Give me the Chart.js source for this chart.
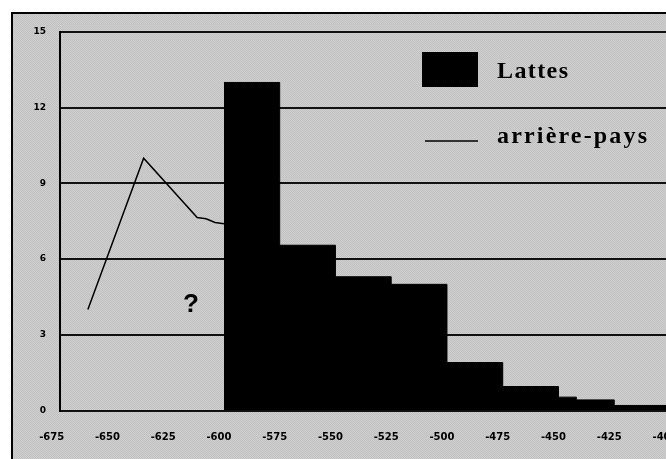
<!DOCTYPE html>
<html>
<head>
<meta charset="utf-8">
<script src="https://cdn.jsdelivr.net/npm/chart.js@4.4.0/dist/chart.umd.min.js"></script>
<style>
  html, body { margin: 0; padding: 0; overflow: hidden; background: #fff; }
  canvas { display: block; }
</style>
</head>
<body>
<canvas id="myChart" width="670" height="470"></canvas>
<script>
'use strict';
// histogram "Lattes" : start of each step and its height
let lattesYears = [-600, -575, -550, -525, -500, -475, -450, -442, -425, -400];
let lattesValues = [13, 6.55, 5.3, 5.0, 1.9, 0.95, 0.53, 0.42, 0.2, 0.2];
// line "arrière-pays"
let paysYears = [-661, -636, -612, -608, -604, -600];
let paysValues = [4, 10, 7.65, 7.6, 7.45, 7.4];
let xTicks = [-675, -650, -625, -600, -575, -550, -525, -500, -475, -450, -425, -400];
let yTicks = [0, 3, 6, 9, 12, 15];
let labelLattes = 'Lattes';
let labelPays = 'arrière-pays';

function toPoints(xs, ys){
    let pts = [];
    for(let i = 0; i < xs.length; i++){
        pts.push({x: xs[i], y: ys[i]});
    }
    return pts;
}

// grey dithered background
function makePattern(ctx){
    let c = document.createElement('canvas');
    c.width = 2; c.height = 2;
    let p = c.getContext('2d');
    p.fillStyle = '#d0d0d0'; p.fillRect(0, 0, 2, 2);
    p.fillStyle = '#c0c0c0'; p.fillRect(0, 0, 1, 1); p.fillRect(1, 1, 1, 1);
    return ctx.createPattern(c, 'repeat');
}

let framePlugin = {
    id: 'frame',
    beforeDraw(chart){
        let ctx = chart.ctx;
        ctx.save();
        ctx.fillStyle = '#fff';
        ctx.fillRect(0, 0, chart.width, chart.height);
        ctx.fillStyle = makePattern(ctx);
        ctx.fillRect(12, 13, chart.width, chart.height);
        ctx.strokeStyle = '#000';
        ctx.lineWidth = 2;
        ctx.strokeRect(12, 13, chart.width + 10, chart.height + 10);
        ctx.restore();
    }
};

function fitText(ctx, text, x, y, width){
    ctx.letterSpacing = '0px';
    let w = ctx.measureText(text).width;
    let sp = (width - w) / (text.length - 1);
    ctx.letterSpacing = sp.toFixed(2) + 'px';
    ctx.fillText(text, x, y);
    ctx.letterSpacing = '0px';
}

let legendPlugin = {
    id: 'legendBox',
    afterDraw(chart){
        let ctx = chart.ctx;
        ctx.save();
        ctx.fillStyle = '#000';
        ctx.fillRect(422, 52, 56, 35);
        ctx.strokeStyle = '#000';
        ctx.lineWidth = 1.5;
        ctx.beginPath();
        ctx.moveTo(425, 141);
        ctx.lineTo(478, 141);
        ctx.stroke();
        ctx.font = 'bold 24px "Liberation Serif"';
        ctx.textBaseline = 'alphabetic';
        fitText(ctx, labelLattes, 497, 78, 71);
        fitText(ctx, labelPays, 497, 143, 150);
        ctx.font = 'bold 26px "Liberation Sans"';
        ctx.textAlign = 'center';
        ctx.fillText('?', 191, 312);
        ctx.restore();
    }
};

let ctx = document.getElementById('myChart').getContext('2d');
let chart = new Chart(ctx, {
    type: 'line',
    data: {
        datasets: [{
            label: labelPays,
            data: toPoints(paysYears, paysValues),
            borderColor: '#000',
            borderWidth: 1.5,
            pointRadius: 0,
            fill: false,
            tension: 0
        },
        {
            label: labelLattes,
            data: toPoints(lattesYears, lattesValues),
            stepped: 'before',
            borderColor: '#000',
            borderWidth: 1,
            backgroundColor: '#000',
            pointRadius: 0,
            fill: 'origin'
        }]
    },
    options: {
        responsive: false,
        animation: false,
        layout: { padding: { top: 32, left: 0, right: 0, bottom: 0 } },
        plugins: {
            legend: { display: false },
            tooltip: { enabled: false }
        },
        scales: {
            x: {
                type: 'linear',
                min: -673.5,
                max: -400,
                grid: { display: false, drawTicks: false },
                border: { display: false },
                afterBuildTicks(scale){
                    scale.ticks = xTicks.map(v => ({value: v}));
                },
                afterFit(scale){
                    scale.height = 59.5;
                    scale.paddingLeft = 0;
                    scale.paddingRight = 0;
                },
                ticks: {
                    autoSkip: false,
                    maxRotation: 0,
                    padding: 21,
                    labelOffset: -5,
                    color: '#000',
                    font: { family: 'DejaVu Sans', weight: 'bold', size: 10 },
                    callback: v => String(v)
                }
            },
            y: {
                min: 0,
                max: 15,
                grid: { color: '#111', lineWidth: 2, drawTicks: false },
                border: { display: true, color: '#000', width: 2 },
                afterBuildTicks(scale){
                    scale.ticks = yTicks.map(v => ({value: v}));
                },
                afterFit(scale){
                    scale.width = 60;
                    scale.paddingTop = 0;
                    scale.paddingBottom = 0;
                },
                ticks: {
                    padding: 14,
                    color: '#000',
                    font: { family: 'DejaVu Sans', weight: 'bold', size: 9 }
                }
            }
        }
    },
    plugins: [framePlugin, legendPlugin]
});
</script>
</body>
</html>
